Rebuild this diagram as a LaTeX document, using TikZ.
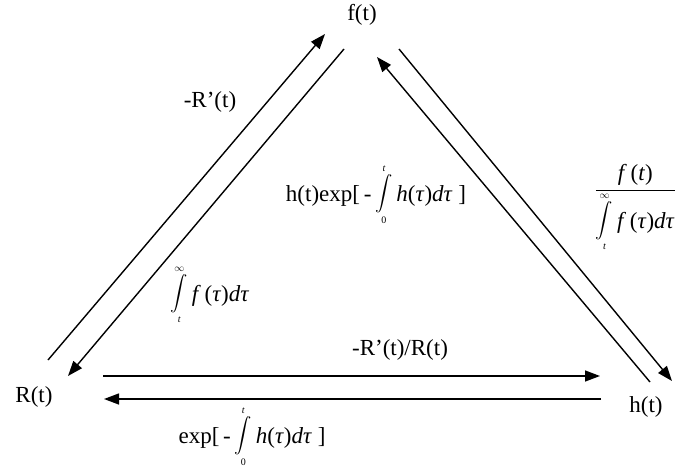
\documentclass[tikz,border=0pt]{standalone}
\usepackage{amsmath}
\usepackage{exscale}
\usepackage{fontspec}
\setmainfont{Liberation Serif}
\usetikzlibrary{arrows.meta}
\newcommand{\vi}[1]{\textit{#1}}
\newcommand{\limtxt}[1]{\hbox{\fontsize{10}{11}\selectfont #1}}
\newcommand{\myint}[2]{\ensuremath{\vcenter{\offinterlineskip\halign{\hfil##\hfil\cr
  \limtxt{#2}\cr\noalign{\kern3pt}
  \hbox{\fontsize{16}{18}\selectfont$\displaystyle\int$}\cr\noalign{\kern4pt}
  \limtxt{#1}\cr}}}}
\begin{document}
\begin{tikzpicture}[x=1pt,y=-1pt,
  lbl/.style={inner sep=0pt,font=\fontsize{23}{27}\selectfont},
  conn/.style={line width=1.4pt,-{Triangle[length=15pt,width=11pt]}}]
\useasboundingbox (0,0) rectangle (675,474);
% main nodes
\node[lbl] (f) at (362,15) {f(t)};
\node[lbl] (R) at (34,397) {R(t)};
\node[lbl] (h) at (646,407) {h(t)};
% edge labels
\node[lbl] (l1) at (210,102) {-R’(t)};
\node[lbl] (l2) at (376,195) {h(t)exp[\,-\,\myint{0}{\vi{t}}\,\vi{h}(\vi{τ})\vi{dτ} ]};
\node[lbl,anchor=east] (l3) at (676,207) {$\displaystyle\frac{\mbox{\vi{f}\,(\vi{t})}}{\mbox{\myint{\vi{t}}{$\infty$}\,\vi{f}\,(\vi{τ})\vi{dτ}}}$};
\node[lbl] (l4) at (210,295) {\myint{\vi{t}}{$\infty$}\,\vi{f}\,(\vi{τ})\vi{dτ}};
\node[lbl] (l5) at (400,350) {-R’(t)/R(t)};
\node[lbl] (l6) at (252,437) {exp[\,-\,\myint{0}{\vi{t}}\,\vi{h}(\vi{τ})\vi{dτ} ]};
% connector ends
\coordinate (a1s) at (48,360);  \coordinate (a1e) at (325,34);
\coordinate (a2s) at (344,49);  \coordinate (a2e) at (68,376);
\coordinate (a3s) at (650,382); \coordinate (a3e) at (377,57);
\coordinate (a4s) at (399,49);  \coordinate (a4e) at (672,381);
\coordinate (a5s) at (103,376); \coordinate (a5e) at (600,376);
\coordinate (a6s) at (601,399); \coordinate (a6e) at (104,399);
\draw[conn] (a1s) -- (a1e);
\draw[conn] (a2s) -- (a2e);
\draw[conn] (a3s) -- (a3e);
\draw[conn] (a4s) -- (a4e);
\draw[conn] (a5s) -- (a5e);
\draw[conn] (a6s) -- (a6e);
\end{tikzpicture}
\end{document}
